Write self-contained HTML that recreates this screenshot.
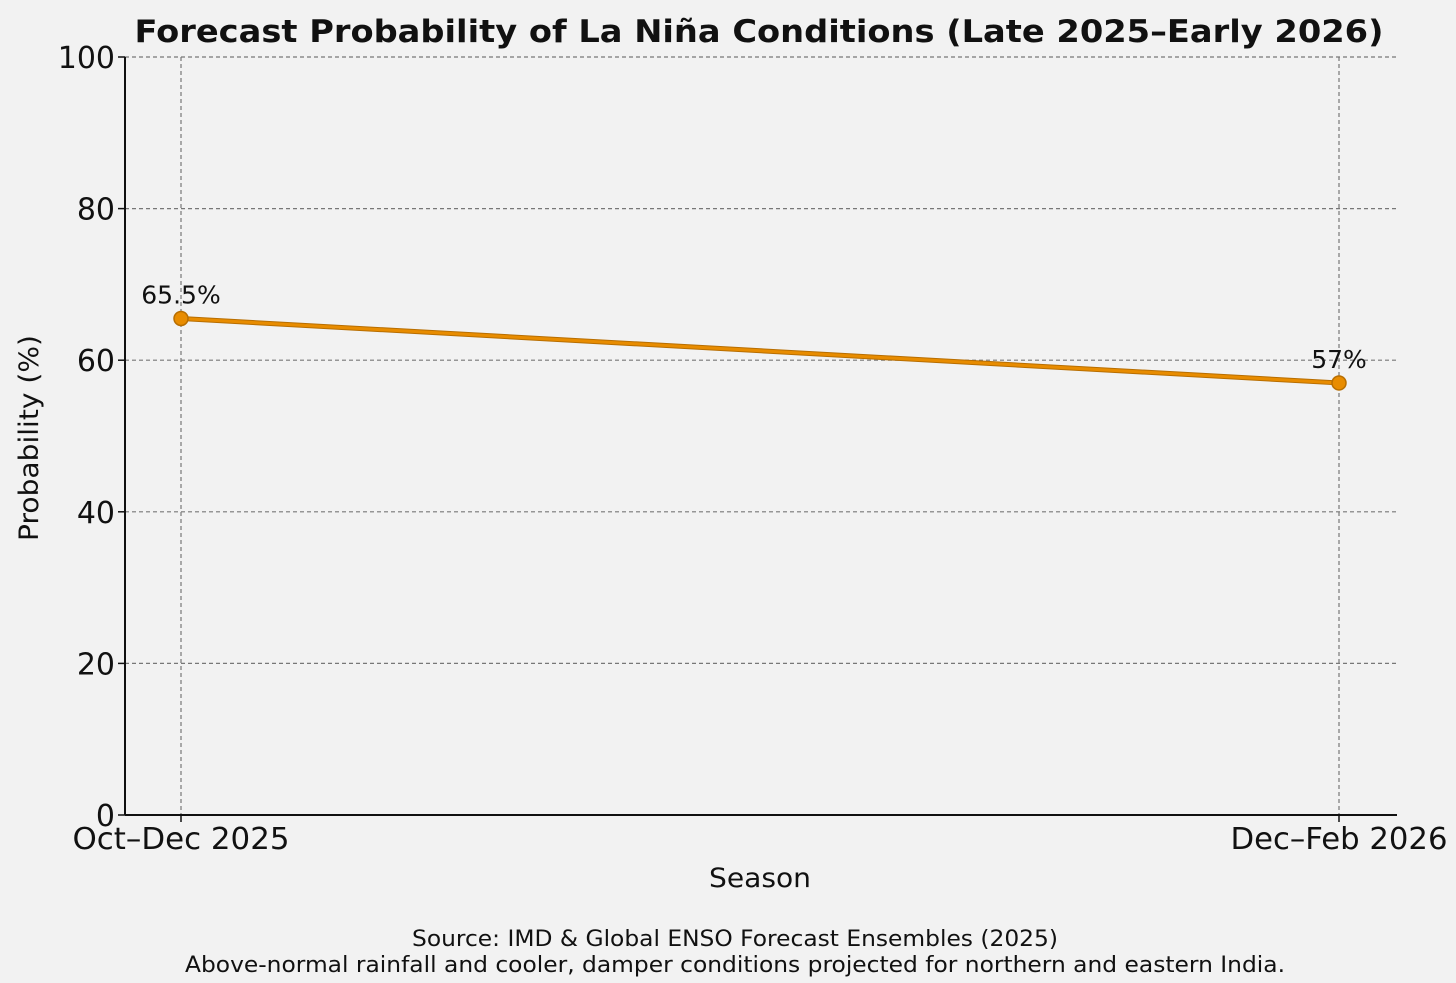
<!DOCTYPE html>
<html><head><meta charset="utf-8"><style>
html,body{margin:0;padding:0;background:#f2f2f2;}
svg{display:block;font-family:"DejaVu Sans","Liberation Sans",sans-serif;}
</style></head><body>
<svg id="chart" width="1456" height="983" viewBox="0 0 1456 983">
<rect width="1456" height="983" fill="#f2f2f2"/>
<text x="759" y="42" text-anchor="middle" font-size="31" font-weight="bold" fill="#111" textLength="1249" lengthAdjust="spacingAndGlyphs">Forecast Probability of La Niña Conditions (Late 2025–Early 2026)</text>
<g id="grid"></g>
<g id="axes"></g>
<g id="series"></g>
<text x="760" y="887" text-anchor="middle" font-size="27" fill="#111" textLength="102" lengthAdjust="spacingAndGlyphs">Season</text>
<text transform="translate(38,438) rotate(-90)" text-anchor="middle" font-size="27" fill="#111" textLength="206" lengthAdjust="spacingAndGlyphs">Probability (%)</text>
<text x="735" y="946" text-anchor="middle" font-size="22" fill="#111" textLength="646" lengthAdjust="spacingAndGlyphs">Source: IMD &amp; Global ENSO Forecast Ensembles (2025)</text>
<text x="735" y="972" text-anchor="middle" font-size="22" fill="#111" textLength="1100" lengthAdjust="spacingAndGlyphs">Above-normal rainfall and cooler, damper conditions projected for northern and eastern India.</text>
</svg>
<script>
const categories = ["Oct–Dec 2025", "Dec–Feb 2026"];
const values = [65.5, 57];
const valueLabels = ["65.5%", "57%"];
const yTicks = [0, 20, 40, 60, 80, 100];

const NS = "http://www.w3.org/2000/svg";
const L = 125, R = 1397, T = 57, B = 815, X0 = 181, X1 = 1339;
const yScale = v => B - (v / 100) * (B - T);
const xScale = i => X0 + i * (X1 - X0) / (categories.length - 1);
function mk(tag, attrs, parent, text) {
  const e = document.createElementNS(NS, tag);
  for (const k in attrs) e.setAttribute(k, attrs[k]);
  if (text !== undefined) e.textContent = text;
  parent.appendChild(e);
  return e;
}
const grid = document.getElementById('grid');
const axes = document.getElementById('axes');
const series = document.getElementById('series');

yTicks.forEach(t => {
  const y = yScale(t);
  if (t > 0) {
    const g = mk('line', {x1: L, x2: R, y1: y, y2: y, stroke: '#777', 'stroke-width': 1.2, 'stroke-dasharray': '4,3'}, grid);
    
    
  }
  const tk = mk('line', {x1: L - 7, x2: L, y1: y, y2: y, stroke: '#111', 'stroke-width': 1.5}, axes);
  
  
  const lb = mk('text', {x: L - 10, y: y + 11, 'text-anchor': 'end', 'font-size': 30, fill: '#111'}, axes, String(t));
  
  
});
categories.forEach((c, i) => {
  const x = xScale(i);
  const g = mk('line', {x1: x, x2: x, y1: T, y2: B, stroke: '#777', 'stroke-width': 1.2, 'stroke-dasharray': '4,3'}, grid);
  
  
  const tk = mk('line', {x1: x, x2: x, y1: B, y2: B + 7, stroke: '#111', 'stroke-width': 1.5}, axes);
  
  
  const lb = mk('text', {x: x, y: B + 34, 'text-anchor': 'middle', 'font-size': 30, fill: '#111', textLength: 217, lengthAdjust: 'spacingAndGlyphs'}, axes, c);
  
  
});
const sp1 = mk('line', {x1: L, x2: L, y1: T, y2: B, stroke: '#111', 'stroke-width': 2}, axes);


const sp2 = mk('line', {x1: L, x2: R, y1: B, y2: B, stroke: '#111', 'stroke-width': 2}, axes);



const pts = values.map((v, i) => xScale(i) + ',' + yScale(v)).join(' ');
const pl = mk('polyline', {points: pts, fill: 'none', stroke: '#b86e00', 'stroke-width': 5}, series);


const pl2 = mk('polyline', {points: pts, fill: 'none', stroke: '#e88c00', 'stroke-width': 3}, series);


values.forEach((v, i) => {
  const x = xScale(i), y = yScale(v);
  const c = mk('circle', {cx: x, cy: y, r: 7, fill: '#e88c00', stroke: '#b86e00', 'stroke-width': 1.5}, series);
  
  
  const t = mk('text', {x: x, y: y - 15, 'text-anchor': 'middle', 'font-size': 25, fill: '#111'}, series, valueLabels[i]);
  
  
});
</script>
</body></html>
